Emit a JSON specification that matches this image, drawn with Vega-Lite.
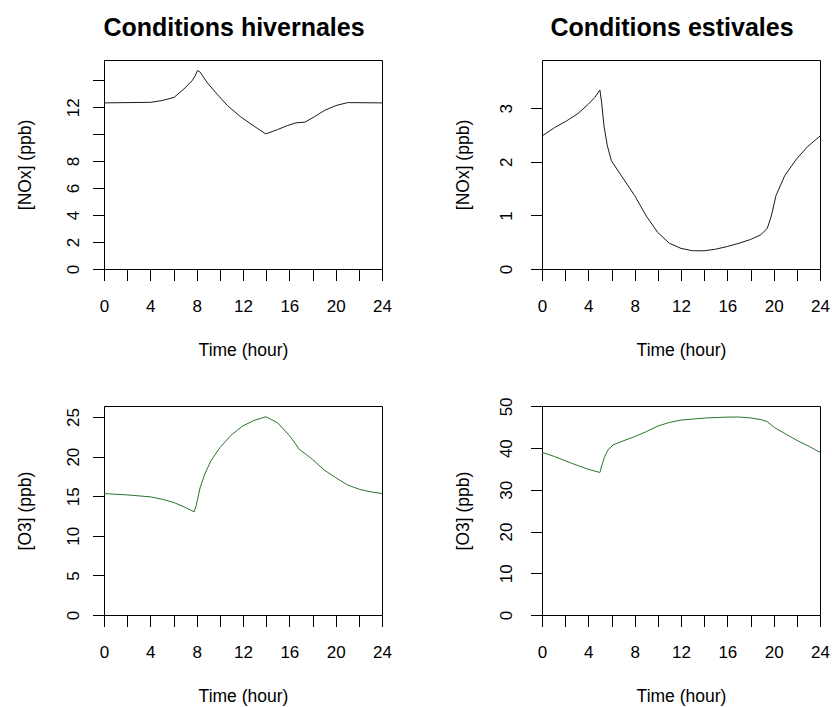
{
  "$schema": "https://vega.github.io/schema/vega-lite/v6.json",
  "background": "white",
  "padding": {"left": 15, "top": 15, "right": 5, "bottom": 5},
  "config": {
    "view": {"stroke": "black", "strokeWidth": 1},
    "font": "Liberation Sans",
    "axis": {
      "grid": false, "domain": false,
      "tickColor": "black", "tickSize": 11.5, "tickWidth": 1,
      "labelFont": "Liberation Sans", "labelFontSize": 17, "labelColor": "black",
      "titleFont": "Liberation Sans", "titleFontSize": 17.5, "titleFontWeight": "normal", "titleColor": "black",
      "labelOverlap": false, "labelFlush": false
    },
    "title": {"font": "Liberation Sans", "fontSize": 25, "fontWeight": "bold", "color": "black", "anchor": "middle", "baseline": "alphabetic", "offset": 19, "dx": -9}
  },
  "columns": 2,
  "spacing": {"row": 137, "column": 160},
  "bounds": "flush",
  "datasets": {
    "nox_winter": [
      {"hour": 0, "value": 12.32}, {"hour": 4.03, "value": 12.36}, {"hour": 5.0, "value": 12.49},
      {"hour": 6.05, "value": 12.73}, {"hour": 6.9, "value": 13.35}, {"hour": 7.6, "value": 13.96},
      {"hour": 7.86, "value": 14.3}, {"hour": 8.07, "value": 14.72}, {"hour": 8.3, "value": 14.6},
      {"hour": 8.93, "value": 13.8}, {"hour": 9.8, "value": 12.93}, {"hour": 10.66, "value": 12.12},
      {"hour": 11.8, "value": 11.28}, {"hour": 12.96, "value": 10.59}, {"hour": 13.97, "value": 10.02},
      {"hour": 14.98, "value": 10.34}, {"hour": 15.85, "value": 10.64}, {"hour": 16.57, "value": 10.84},
      {"hour": 17.34, "value": 10.89}, {"hour": 18.15, "value": 11.28}, {"hour": 19.01, "value": 11.75},
      {"hour": 20.02, "value": 12.12}, {"hour": 21.03, "value": 12.34}, {"hour": 24, "value": 12.32}
    ],
    "nox_summer": [
      {"hour": 0, "value": 2.48}, {"hour": 1.09, "value": 2.64}, {"hour": 2.1, "value": 2.76},
      {"hour": 3.1, "value": 2.9}, {"hour": 3.97, "value": 3.07}, {"hour": 4.55, "value": 3.2},
      {"hour": 5.0, "value": 3.34}, {"hour": 5.15, "value": 3.1}, {"hour": 5.35, "value": 2.67},
      {"hour": 5.64, "value": 2.3}, {"hour": 5.99, "value": 2.02}, {"hour": 6.85, "value": 1.74},
      {"hour": 8.0, "value": 1.37}, {"hour": 9.0, "value": 0.99}, {"hour": 10.0, "value": 0.68},
      {"hour": 11.0, "value": 0.48}, {"hour": 12.0, "value": 0.385}, {"hour": 13.0, "value": 0.34},
      {"hour": 14.0, "value": 0.34}, {"hour": 15.0, "value": 0.37}, {"hour": 16.0, "value": 0.42},
      {"hour": 17.0, "value": 0.48}, {"hour": 18.0, "value": 0.55}, {"hour": 18.9, "value": 0.64},
      {"hour": 19.45, "value": 0.76}, {"hour": 19.8, "value": 0.99}, {"hour": 20.2, "value": 1.37},
      {"hour": 20.95, "value": 1.74}, {"hour": 21.96, "value": 2.05}, {"hour": 22.96, "value": 2.29},
      {"hour": 24, "value": 2.48}
    ],
    "o3_winter": [
      {"hour": 0, "value": 15.34}, {"hour": 2.0, "value": 15.17}, {"hour": 4.03, "value": 14.92},
      {"hour": 5.04, "value": 14.62}, {"hour": 6.05, "value": 14.2}, {"hour": 6.91, "value": 13.66},
      {"hour": 7.78, "value": 13.03}, {"hour": 7.95, "value": 13.78}, {"hour": 8.3, "value": 16.1},
      {"hour": 8.7, "value": 17.8}, {"hour": 9.22, "value": 19.45}, {"hour": 10.0, "value": 21.13},
      {"hour": 10.95, "value": 22.69}, {"hour": 11.96, "value": 23.87}, {"hour": 12.96, "value": 24.58},
      {"hour": 13.97, "value": 25.04}, {"hour": 14.98, "value": 24.29}, {"hour": 15.99, "value": 22.69},
      {"hour": 16.57, "value": 21.55}, {"hour": 16.8, "value": 21.0}, {"hour": 18.0, "value": 19.66},
      {"hour": 19.0, "value": 18.32}, {"hour": 20.0, "value": 17.35}, {"hour": 21.03, "value": 16.43},
      {"hour": 22.04, "value": 15.88}, {"hour": 23.05, "value": 15.55}, {"hour": 24, "value": 15.34}
    ],
    "o3_summer": [
      {"hour": 0, "value": 39.0}, {"hour": 1.09, "value": 37.98}, {"hour": 2.53, "value": 36.4},
      {"hour": 3.97, "value": 34.95}, {"hour": 5.0, "value": 34.16}, {"hour": 5.18, "value": 36.0},
      {"hour": 5.41, "value": 37.98}, {"hour": 5.7, "value": 39.57}, {"hour": 6.13, "value": 40.76},
      {"hour": 6.99, "value": 41.72}, {"hour": 8.0, "value": 42.75}, {"hour": 9.0, "value": 43.95},
      {"hour": 10.01, "value": 45.3}, {"hour": 11.02, "value": 46.18}, {"hour": 12.03, "value": 46.74},
      {"hour": 13.04, "value": 46.97}, {"hour": 14.04, "value": 47.21}, {"hour": 16.06, "value": 47.45},
      {"hour": 17.06, "value": 47.45}, {"hour": 18.07, "value": 47.21}, {"hour": 18.94, "value": 46.82},
      {"hour": 19.45, "value": 46.34}, {"hour": 20.09, "value": 44.9}, {"hour": 21.09, "value": 43.3},
      {"hour": 22.1, "value": 41.72}, {"hour": 23.1, "value": 40.37}, {"hour": 24, "value": 39.0}
    ]
  },
  "concat": [
    {
      "width": 278, "height": 209,
      "title": "Conditions hivernales",
      "data": {"name": "nox_winter"},
      "mark": {"type": "line", "color": "#1a1a1a", "strokeWidth": 1, "clip": true},
      "encoding": {
        "x": {"field": "hour", "type": "quantitative", "scale": {"domain": [0, 24], "nice": false, "zero": false},
          "axis": {"values": [0, 2, 4, 6, 8, 10, 12, 14, 16, 18, 20, 22, 24], "labelExpr": "datum.value % 4 == 0 ? datum.label : ''", "title": "Time (hour)", "labelBaseline": "middle", "labelPadding": 26, "titleY": 81.5, "titleBaseline": "middle"}},
        "y": {"field": "value", "type": "quantitative", "scale": {"domain": [0, 15.5], "nice": false},
          "axis": {"values": [0, 2, 4, 6, 8, 10, 12, 14], "labelExpr": "datum.value == 10 || datum.value == 14 ? '' : datum.label", "title": "[NOx] (ppb)", "labelAngle": 270, "labelAlign": "center", "labelBaseline": "alphabetic", "labelPadding": 14.5, "titleX": -79, "titleY": 104.5, "titleAngle": 270, "titleAlign": "center", "titleBaseline": "middle"}}
      }
    },
    {
      "width": 278, "height": 209,
      "title": "Conditions estivales",
      "data": {"name": "nox_summer"},
      "mark": {"type": "line", "color": "#1a1a1a", "strokeWidth": 1, "clip": true},
      "encoding": {
        "x": {"field": "hour", "type": "quantitative", "scale": {"domain": [0, 24], "nice": false, "zero": false},
          "axis": {"values": [0, 2, 4, 6, 8, 10, 12, 14, 16, 18, 20, 22, 24], "labelExpr": "datum.value % 4 == 0 ? datum.label : ''", "title": "Time (hour)", "labelBaseline": "middle", "labelPadding": 26, "titleY": 81.5, "titleBaseline": "middle"}},
        "y": {"field": "value", "type": "quantitative", "scale": {"domain": [0, 3.9], "nice": false},
          "axis": {"values": [0, 1, 2, 3], "title": "[NOx] (ppb)", "labelAngle": 270, "labelAlign": "center", "labelBaseline": "alphabetic", "labelPadding": 19, "titleX": -79, "titleY": 104.5, "titleAngle": 270, "titleAlign": "center", "titleBaseline": "middle"}}
      }
    },
    {
      "width": 278, "height": 209,
      "data": {"name": "o3_winter"},
      "mark": {"type": "line", "color": "#2a742a", "strokeWidth": 1, "clip": true},
      "encoding": {
        "x": {"field": "hour", "type": "quantitative", "scale": {"domain": [0, 24], "nice": false, "zero": false},
          "axis": {"values": [0, 2, 4, 6, 8, 10, 12, 14, 16, 18, 20, 22, 24], "labelExpr": "datum.value % 4 == 0 ? datum.label : ''", "title": "Time (hour)", "labelBaseline": "middle", "labelPadding": 26, "titleY": 81.5, "titleBaseline": "middle"}},
        "y": {"field": "value", "type": "quantitative", "scale": {"domain": [0, 26.4], "nice": false},
          "axis": {"values": [0, 5, 10, 15, 20, 25], "title": "[O3] (ppb)", "labelAngle": 270, "labelAlign": "center", "labelBaseline": "alphabetic", "labelPadding": 14.5, "titleX": -79, "titleY": 104.5, "titleAngle": 270, "titleAlign": "center", "titleBaseline": "middle"}}
      }
    },
    {
      "width": 278, "height": 209,
      "data": {"name": "o3_summer"},
      "mark": {"type": "line", "color": "#2a742a", "strokeWidth": 1, "clip": true},
      "encoding": {
        "x": {"field": "hour", "type": "quantitative", "scale": {"domain": [0, 24], "nice": false, "zero": false},
          "axis": {"values": [0, 2, 4, 6, 8, 10, 12, 14, 16, 18, 20, 22, 24], "labelExpr": "datum.value % 4 == 0 ? datum.label : ''", "title": "Time (hour)", "labelBaseline": "middle", "labelPadding": 26, "titleY": 81.5, "titleBaseline": "middle"}},
        "y": {"field": "value", "type": "quantitative", "scale": {"domain": [0, 50.1], "nice": false},
          "axis": {"values": [0, 10, 20, 30, 40, 50], "title": "[O3] (ppb)", "labelAngle": 270, "labelAlign": "center", "labelBaseline": "alphabetic", "labelPadding": 19, "titleX": -79, "titleY": 104.5, "titleAngle": 270, "titleAlign": "center", "titleBaseline": "middle"}}
      }
    }
  ]
}
